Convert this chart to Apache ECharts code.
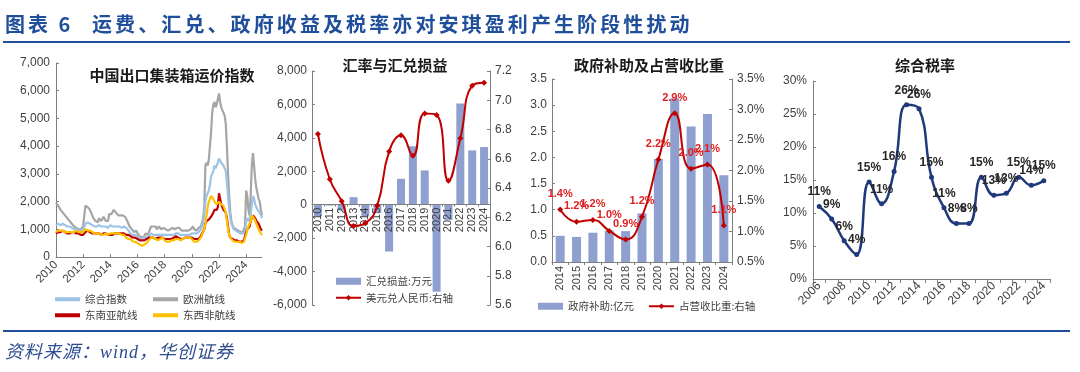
<!DOCTYPE html>
<html><head><meta charset="utf-8">
<script src="https://cdn.jsdelivr.net/npm/echarts/dist/echarts.min.js"></script>
<style>
html,body{margin:0;padding:0;background:#fff;width:1080px;height:372px;overflow:hidden;}
#chart{position:absolute;left:0;top:0;width:1080px;height:372px;}
#hdr1{position:absolute;left:5px;top:9px;font:bold 20px "Noto Sans CJK SC";color:#1F4E9A;letter-spacing:3px;white-space:nowrap;}
#hdr2{position:absolute;left:92px;top:9px;font:bold 20px "Noto Sans CJK SC";color:#1F4E9A;letter-spacing:3.1px;white-space:nowrap;}
#hline{position:absolute;left:3px;top:41px;width:1067px;height:2px;background:#1F4E9A;}
#fline{position:absolute;left:3px;top:330px;width:1067px;height:2px;background:#1F4E9A;}
#foot{position:absolute;left:5px;top:337px;font:italic 18px "Liberation Serif","Noto Sans CJK SC";color:#2E4D8F;letter-spacing:1px;white-space:nowrap;}
</style></head>
<body>
<div id="chart"></div>
<div id="hdr1">图表 6</div>
<div id="hdr2">运费、汇兑、政府收益及税率亦对安琪盈利产生阶段性扰动</div>
<div id="hline"></div>
<div id="fline"></div>
<div id="foot">资料来源：wind，华创证券</div>
<script>
// ---------- Panel 1: 中国出口集装箱运价指数 (monthly, 2010-01 .. 2025-03) ----------
const freightYears = ['2010','2011','2012','2013','2014','2015','2016','2017','2018','2019','2020','2021','2022','2023','2024','2025'];
const ccfiComposite = [
 1150,1150,1200,1200,1150,1150,1200,1200,1150,1100,1100,1100,
 1100,1050,1050,1000,1000,1000,1000,950,950,950,950,950,
 1000,1100,1200,1250,1250,1250,1200,1200,1150,1100,1100,1050,
 1100,1100,1150,1150,1100,1050,1100,1150,1100,1100,1050,1100,
 1150,1100,1100,1100,1100,1050,1100,1100,1100,1100,1050,1100,
 1100,1100,1050,1000,950,900,850,850,800,800,800,750,
 750,700,650,650,650,650,700,700,700,700,750,800,
 850,850,800,800,800,800,800,800,800,800,800,800,
 800,800,800,800,800,800,800,800,800,800,850,850,
 850,850,800,800,800,800,800,800,800,800,800,800,
 850,900,850,850,850,850,900,950,1000,1100,1200,1500,
 2000,2200,2300,2400,2600,2900,3000,3100,3300,3200,3300,3400,
 3550,3500,3400,3350,3300,3200,3100,2700,2200,1700,1400,1200,
 1100,1000,950,950,950,900,900,850,850,850,850,900,
 1300,1400,1300,1250,1500,1900,2200,2100,1900,1800,1700,1650,
 1600,1500,1400];
const ccfiEurope = [
 1950,1900,1850,1800,1700,1650,1600,1550,1500,1450,1400,1350,
 1300,1250,1200,1150,1100,1100,1050,1000,1000,1050,1000,1000,
 1100,1500,1850,1900,1800,1750,1700,1600,1500,1400,1350,1300,
 1300,1250,1400,1350,1300,1250,1450,1400,1300,1250,1300,1550,
 1600,1550,1500,1700,1650,1600,1550,1500,1450,1500,1550,1500,
 1500,1450,1400,1300,1200,1100,1050,1000,950,900,900,950,
 850,800,750,750,700,700,750,850,800,800,900,950,
 1100,1150,1100,1050,1100,1000,1050,1100,1050,1000,1000,1050,
 1050,1000,1000,950,950,1000,1050,1050,1000,1000,1050,1050,
 1000,1050,1000,950,950,950,1000,950,950,950,950,1000,
 1050,1100,1000,950,950,1000,1050,1100,1100,1150,1400,1800,
 3300,3400,3300,3500,4000,4500,5200,5500,5600,5400,5500,5700,
 5900,5600,5400,5300,5200,5100,4800,4000,3000,2200,1600,1300,
 1150,1050,1000,1000,950,950,950,900,900,900,950,1100,
 2400,2200,1700,1500,2200,3300,3750,3300,2800,2500,2300,2100,
 2000,1700,1500];
const ccfiSEAsia = [
 850,850,900,900,900,950,950,900,900,850,850,850,
 850,850,900,900,900,850,850,850,850,800,800,800,
 800,850,900,950,950,950,900,900,850,850,850,850,
 850,850,850,850,800,800,850,850,850,850,800,800,
 800,800,800,850,850,850,850,850,850,850,850,850,
 850,800,800,800,800,750,750,700,700,700,700,700,
 650,600,600,600,600,600,600,650,650,650,700,700,
 700,700,700,650,650,650,700,700,700,700,700,700,
 650,650,650,650,650,650,650,700,700,700,750,750,
 700,700,650,650,650,650,700,700,700,700,700,700,
 700,650,650,650,650,650,650,700,750,850,900,1000,
 1200,1300,1300,1350,1400,1450,1500,1600,1700,1750,1700,1800,
 2300,2100,1900,1800,1700,1700,1600,1400,1100,800,700,650,
 650,600,600,600,600,600,550,550,550,550,600,650,
 900,1000,1050,1100,1300,1400,1500,1450,1400,1300,1300,1200,
 1100,1000,950];
const ccfiEWAfrica = [
 900,950,950,950,950,950,950,950,900,900,900,900,
 900,900,900,900,900,950,950,900,900,900,900,900,
 900,950,1000,1000,950,950,950,900,900,900,850,850,
 850,850,850,850,800,800,800,850,850,850,800,800,
 850,850,850,850,850,850,850,850,850,850,800,800,
 800,750,700,700,650,650,650,600,550,550,550,550,
 500,450,450,400,400,450,450,500,500,550,600,650,
 700,750,700,650,650,600,600,600,650,700,700,700,
 600,550,550,500,550,550,600,600,600,600,650,650,
 650,650,600,600,650,650,700,700,700,700,700,650,
 650,600,550,550,550,600,600,650,700,800,900,1000,
 1200,1500,1800,2000,2100,2200,2150,2100,2000,1950,1900,1900,
 2000,1950,1900,1900,1850,1800,1600,1300,1000,800,700,650,
 600,550,550,550,550,550,550,500,500,500,550,600,
 800,1000,1100,1100,1300,1500,1500,1400,1300,1200,1100,1000,
 950,850,800];
const freightMonths = [];
freightYears.forEach(function(y){ for(let m=1;m<=12;m++){ if(freightMonths.length<ccfiComposite.length) freightMonths.push(y+'-'+(m<10?'0'+m:m)); } });

// ---------- Panel 2: 汇率与汇兑损益 ----------
const fxYears = ['2010','2011','2012','2013','2014','2015','2016','2017','2018','2019','2020','2021','2022','2023','2024'];
const fxGainLoss = [-700,-50,-350,450,-700,-500,-2800,1550,3500,2050,-5200,-900,6050,3250,3450];
const usdCny = [6.77,6.46,6.31,6.14,6.16,6.28,6.65,6.76,6.62,6.91,6.90,6.45,6.74,7.10,7.12];

// ---------- Panel 3: 政府补助及占营收比重 ----------
const subsidyYears = ['2014','2015','2016','2017','2018','2019','2020','2021','2022','2023','2024'];
const subsidy = [0.50,0.48,0.56,0.60,0.59,0.93,1.97,3.13,2.59,2.83,1.66];
const subsidyRatio = [1.36,1.16,1.19,1.01,0.87,1.24,2.18,2.94,2.03,2.10,1.10];

// ---------- Panel 4: 综合税率 ----------
const taxYears = ['2006','2007','2008','2009','2010','2011','2012','2013','2014','2015','2016','2017','2018','2019','2020','2021','2022','2023','2024'];
const taxRate = [11.0,9.1,5.8,3.7,14.7,11.4,16.3,26.4,25.8,15.4,10.8,8.4,8.4,15.4,12.7,13.0,15.4,14.2,14.9];

const AX = '#7f7f7f', LBL = '#404040', NUMF = 'Liberation Sans', CJK = 'Noto Sans CJK SC';
const BAR = '#8F9FD0', RED = '#C00000', NAVY = '#1F3A7A';

function baseY(extra){
  return Object.assign({
    type:'value', splitLine:{show:false},
    axisLine:{show:true, lineStyle:{color:AX}},
    axisTick:{show:true, inside:true, length:3, lineStyle:{color:AX}},
    axisLabel:{color:LBL, fontSize:12, fontFamily:NUMF}
  }, extra);
}
function titleText(x,y,t){
  return {type:'text', x:x, y:y, style:{text:t, fill:'#1a1a1a', font:'bold 15px "Noto Sans CJK SC"', textAlign:'center', textVerticalAlign:'middle'}};
}
function legendBase(extra){
  return Object.assign({itemWidth:25, itemHeight:4, textStyle:{fontSize:10.5, color:LBL, fontFamily:CJK}, padding:0}, extra);
}

// Panel 2 geometry: the category axis sits on the zero line of the left axis
const p2Top = 71, p2Height = 234;
const p2ZeroTop = p2Height * 8000 / 14000;

const chart = echarts.init(document.getElementById('chart'), null, {renderer:'canvas'});
chart.setOption({
  animation:false,
  backgroundColor:'transparent',
  graphic:[
    titleText(172,75,'中国出口集装箱运价指数'),
    titleText(395,65,'汇率与汇兑损益'),
    titleText(649,65,'政府补助及占营收比重'),
    titleText(925,65,'综合税率')
  ],
  grid:[
    {left:56, top:63, width:206, height:194},
    {left:312, top:p2Top, width:178, height:p2Height},
    {left:552, top:79, width:180, height:183},
    {left:813, top:81, width:237, height:198},
    {left:312, top:p2Top, width:178, height:p2ZeroTop}
  ],
  xAxis:[
    {type:'category', gridIndex:0, data:freightMonths, boundaryGap:false,
     axisLine:{lineStyle:{color:AX}},
     axisTick:{inside:true, length:3, interval:23, lineStyle:{color:AX}},
     axisLabel:{interval:23, rotate:45, color:LBL, fontSize:11.5, fontFamily:NUMF, margin:6, formatter:function(v){return v.slice(0,4);}}},
    {type:'category', gridIndex:1, data:fxYears,
     axisLine:{show:false}, axisTick:{show:false}, axisLabel:{show:false}},
    {type:'category', gridIndex:2, data:subsidyYears,
     axisLine:{lineStyle:{color:AX}},
     axisTick:{show:true, length:3, lineStyle:{color:AX}},
     axisLabel:{interval:0, rotate:90, color:LBL, fontSize:11, fontFamily:NUMF, margin:4}},
    {type:'category', gridIndex:3, data:taxYears,
     axisLine:{lineStyle:{color:AX}},
     axisTick:{show:true, interval:0, length:4, lineStyle:{color:AX}},
     axisLabel:{interval:1, rotate:45, color:LBL, fontSize:12, fontFamily:NUMF, margin:5}},
    {type:'category', gridIndex:4, data:fxYears, position:'bottom', z:10,
     axisLine:{show:true, onZero:false, lineStyle:{color:AX}},
     axisTick:{show:true, length:2, lineStyle:{color:AX}},
     axisLabel:{interval:0, rotate:90, color:LBL, fontSize:11, fontFamily:NUMF, margin:3}}
  ],
  yAxis:[
    baseY({gridIndex:0, min:0, max:7000, interval:1000, axisLabel:{color:LBL, fontSize:12, fontFamily:NUMF, margin:6, formatter:function(v){return v.toLocaleString('en-US');}}}),
    baseY({gridIndex:1, min:-6000, max:8000, interval:2000, axisLabel:{color:LBL, fontSize:12, fontFamily:NUMF, margin:5, formatter:function(v){return v.toLocaleString('en-US');}}}),
    baseY({gridIndex:1, position:'right', min:5.6, max:7.2, interval:0.2, axisLabel:{color:LBL, fontSize:12, fontFamily:NUMF, margin:5, formatter:function(v){return v.toFixed(1);}}}),
    baseY({gridIndex:2, min:0, max:3.5, interval:0.5, axisLabel:{color:LBL, fontSize:12, fontFamily:NUMF, margin:5, formatter:function(v){return v.toFixed(1);}}}),
    baseY({gridIndex:2, position:'right', min:0.5, max:3.5, interval:0.5, axisLabel:{color:LBL, fontSize:12, fontFamily:NUMF, margin:5, formatter:function(v){return v.toFixed(1)+'%';}}}),
    baseY({gridIndex:3, min:0, max:30, interval:5, axisLabel:{color:LBL, fontSize:12, fontFamily:NUMF, margin:6, formatter:function(v){return v+'%';}}}),
    {type:'value', gridIndex:4, min:0, max:1, show:false}
  ],
  legend:[
    legendBase({data:[{name:'综合指数', icon:'rect'}], left:55, top:294}),
    legendBase({data:[{name:'欧洲航线', icon:'rect'}], left:153, top:294}),
    legendBase({data:[{name:'东南亚航线', icon:'rect'}], left:55, top:310}),
    legendBase({data:[{name:'东西非航线', icon:'rect'}], left:153, top:310}),
    legendBase({orient:'vertical', left:335, top:276, itemGap:6, itemHeight:7,
      data:[{name:'汇兑损益:万元', icon:'rect'}, {name:'美元兑人民币:右轴'}]}),
    legendBase({left:538, top:301, itemGap:14, itemHeight:7,
      data:[{name:'政府补助:亿元', icon:'rect'}, {name:'占营收比重:右轴'}]})
  ],
  series:[
    {name:'欧洲航线', type:'line', xAxisIndex:0, yAxisIndex:0, data:ccfiEurope, showSymbol:false, color:'#A6A6A6', lineStyle:{width:2.2}},
    {name:'综合指数', type:'line', xAxisIndex:0, yAxisIndex:0, data:ccfiComposite, showSymbol:false, color:'#9DC3E6', lineStyle:{width:2.2}},
    {name:'东南亚航线', type:'line', xAxisIndex:0, yAxisIndex:0, data:ccfiSEAsia, showSymbol:false, color:'#C00000', lineStyle:{width:2.2}},
    {name:'东西非航线', type:'line', xAxisIndex:0, yAxisIndex:0, data:ccfiEWAfrica, showSymbol:false, color:'#FFC000', lineStyle:{width:2.2}},
    {name:'汇兑损益:万元', type:'bar', xAxisIndex:1, yAxisIndex:1, data:fxGainLoss, barWidth:8, color:BAR},
    {name:'美元兑人民币:右轴', type:'line', xAxisIndex:1, yAxisIndex:2, data:usdCny, smooth:0.5, symbol:'diamond', symbolSize:6, color:RED, lineStyle:{width:2}, z:12},
    {name:'政府补助:亿元', type:'bar', xAxisIndex:2, yAxisIndex:3, data:subsidy, barWidth:9, color:BAR},
    {name:'占营收比重:右轴', type:'line', xAxisIndex:2, yAxisIndex:4, data:subsidyRatio, smooth:0.5, symbol:'diamond', symbolSize:6, color:RED, lineStyle:{width:2},
     label:{show:true, position:'top', distance:7, color:'#E02020', fontSize:11, fontWeight:'bold', fontFamily:NUMF, formatter:function(p){return p.value.toFixed(1)+'%';}}},
    {name:'综合税率', type:'line', xAxisIndex:3, yAxisIndex:5, data:taxRate, smooth:0.45, symbol:'circle', symbolSize:5, color:NAVY, lineStyle:{width:2.5},
     label:{show:true, position:'top', distance:6, color:'#262626', fontSize:12, fontWeight:'bold', fontFamily:NUMF, formatter:function(p){return p.value.toFixed(0)+'%';}}}
  ]
});
</script>
</body></html>
